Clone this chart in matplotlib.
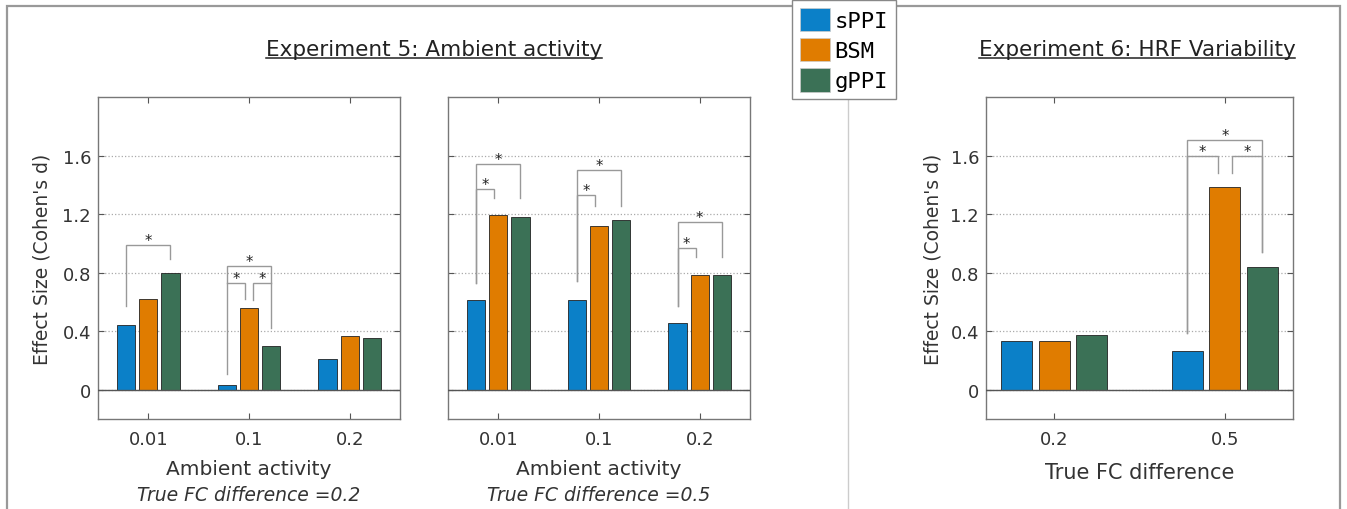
import matplotlib
matplotlib.use("Agg")
import matplotlib.pyplot as plt
from matplotlib.patches import Patch, Rectangle
from matplotlib.lines import Line2D

# данные
methods = ['sPPI', 'BSM', 'gPPI']
colors = ['#0b80c8', '#e07c00', '#3b7156']

amb_labels = ['0.01', '0.1', '0.2']
fc_labels = ['0.2', '0.5']

# Эксперимент 5, true FC difference = 0.2
e5a_sppi = [0.44, 0.03, 0.21]
e5a_bsm = [0.62, 0.555, 0.365]
e5a_gppi = [0.80, 0.296, 0.353]

# Эксперимент 5, true FC difference = 0.5
e5b_sppi = [0.61, 0.613, 0.454]
e5b_bsm = [1.197, 1.121, 0.786]
e5b_gppi = [1.178, 1.162, 0.786]

# Эксперимент 6
e6_sppi = [0.335, 0.262]
e6_bsm = [0.33, 1.386]
e6_gppi = [0.371, 0.836]

# скобки значимости: (группа, столбец a, столбец b, верх, конец ноги a, конец ноги b)
e5a_sig = [(0, 0, 2, 0.987, 0.57, 0.89),
           (1, 0, 2, 0.848, 0.11, 0.42),
           (1, 0, 1, 0.73, 0.73, 0.62),
           (1, 1, 2, 0.73, 0.615, 0.73)]
e5b_sig = [(0, 0, 2, 1.543, 0.73, 1.31),
           (0, 0, 1, 1.372, 0.73, 1.31),
           (1, 0, 2, 1.504, 0.74, 1.258),
           (1, 0, 1, 1.33, 0.74, 1.258),
           (2, 0, 2, 1.144, 0.57, 0.905),
           (2, 0, 1, 0.969, 0.57, 0.905)]
e6_sig = [(1, 0, 2, 1.705, 0.387, 0.939),
          (1, 0, 1, 1.595, 0.387, 1.48),
          (1, 1, 2, 1.595, 1.48, 0.939)]

W, H = 1347, 510
fig = plt.figure(figsize=(W / 100, H / 100), dpi=100)
txt = '#333333'
offs = [-0.22, 0, 0.22]
bw = 0.18


def panel(rect, labels, series, sig, xlim, show_ylab):
    ax = fig.add_axes(rect)
    xs = list(range(1, len(labels) + 1))
    for k, vals in enumerate(series):
        ax.bar([x + offs[k] for x in xs], vals, width=bw, color=colors[k],
               edgecolor='#222222', linewidth=0.6, zorder=3)
    ax.axhline(0, color='#555555', lw=1, zorder=4)
    ax.set_xlim(*xlim)
    ax.set_ylim(-0.2, 2.0)
    ax.set_xticks(xs)
    ax.set_xticklabels(labels)
    ax.set_yticks([0, 0.4, 0.8, 1.2, 1.6])
    ax.set_yticklabels(['0', '0.4', '0.8', '1.2', '1.6'])
    if not show_ylab:
        ax.set_yticklabels([])
    ax.yaxis.grid(True, linestyle=':', color='#aaaaaa', lw=0.9)
    ax.set_axisbelow(True)
    ax.tick_params(direction='in', length=4, color='#555555', top=True,
                   right=True, labelsize=13, labelcolor=txt)
    ax.tick_params(axis='x', pad=8)
    ax.tick_params(axis='y', pad=5)
    for s in ax.spines.values():
        s.set_color('#777777')
        s.set_linewidth(1)
    for g, a, b, top, ea, eb in sig:
        xa = xs[g] + offs[a] + (0.04 if a == 1 else 0)
        xb = xs[g] + offs[b] - (0.04 if b == 1 else 0)
        ax.plot([xa, xa, xb, xb], [ea, top, top, eb], color='#999999',
                lw=1, zorder=5, solid_joinstyle='miter')
        ax.text((xa + xb) / 2, top + 0.03, '*', ha='center', va='center',
                fontsize=10.5, color='#222222', zorder=6)
    return ax


ax1 = panel([98 / W, 90 / H, 302 / W, 322 / H], amb_labels,
            [e5a_sppi, e5a_bsm, e5a_gppi], e5a_sig, (0.5, 3.5), True)
ax2 = panel([448 / W, 90 / H, 302 / W, 322 / H], amb_labels,
            [e5b_sppi, e5b_bsm, e5b_gppi], e5b_sig, (0.5, 3.5), False)
ax3 = panel([986 / W, 90 / H, 307 / W, 322 / H], fc_labels,
            [e6_sppi, e6_bsm, e6_gppi], e6_sig, (0.6, 2.4), True)

for ax, sub in [(ax1, 'True FC difference =0.2'), (ax2, 'True FC difference =0.5')]:
    ax.text(0.5, -50 / 322, 'Ambient activity', transform=ax.transAxes,
            ha='center', va='center', fontsize=14.5, color=txt)
    ax.text(0.5, -76 / 322, sub, transform=ax.transAxes, ha='center',
            va='center', fontsize=13.5, style='italic', color=txt)
ax3.text(0.5, -53 / 322, 'True FC difference', transform=ax3.transAxes,
         ha='center', va='center', fontsize=15, color=txt)

for ax, dx in [(ax1, 56 / 302), (ax3, 53 / 307)]:
    ax.text(-dx, 0.5, "Effect Size (Cohen's d)", transform=ax.transAxes,
            rotation=90, ha='center', va='center', fontsize=13.5, color=txt)

# заголовки с подчёркиванием
titles = []
for x, s in [(434, 'Experiment 5: Ambient activity'), (1137, 'Experiment 6: HRF Variability')]:
    titles.append(fig.text(x / W, 1 - 50 / H, s, ha='center', va='center',
                           fontsize=15.5, color='#222222'))
r = fig.canvas.get_renderer()
for t in titles:
    bb = t.get_window_extent(renderer=r)
    yl = (bb.y0 + 1) / H
    fig.add_artist(Line2D([bb.x0 / W, bb.x1 / W], [yl, yl],
                          transform=fig.transFigure, color='#222222', lw=1.1))

# рамка и разделитель
fig.add_artist(Rectangle((7 / W, -0.1), 1333 / W, 1.1 - 7 / H,
                         transform=fig.transFigure, fill=False,
                         edgecolor='#999999', lw=1.6))
fig.add_artist(Line2D([848 / W, 848 / W], [0, 1 - 100 / H],
                      transform=fig.transFigure, color='#cccccc', lw=1))

handles = [Patch(facecolor=c, edgecolor='#cccccc', lw=0.5) for c in colors]
leg = fig.legend(handles, methods, loc='upper left',
                 bbox_to_anchor=(792 / W, 1 - 1 / H), frameon=True,
                 fancybox=False, edgecolor='#888888', framealpha=1,
                 prop={'family': 'DejaVu Sans Mono', 'size': 16},
                 handlelength=1.35, handleheight=1.25, handletextpad=0.2,
                 labelspacing=0.3, borderpad=0.35, borderaxespad=0)
leg.get_frame().set_linewidth(1)

fig.savefig('out.png', dpi=100)
